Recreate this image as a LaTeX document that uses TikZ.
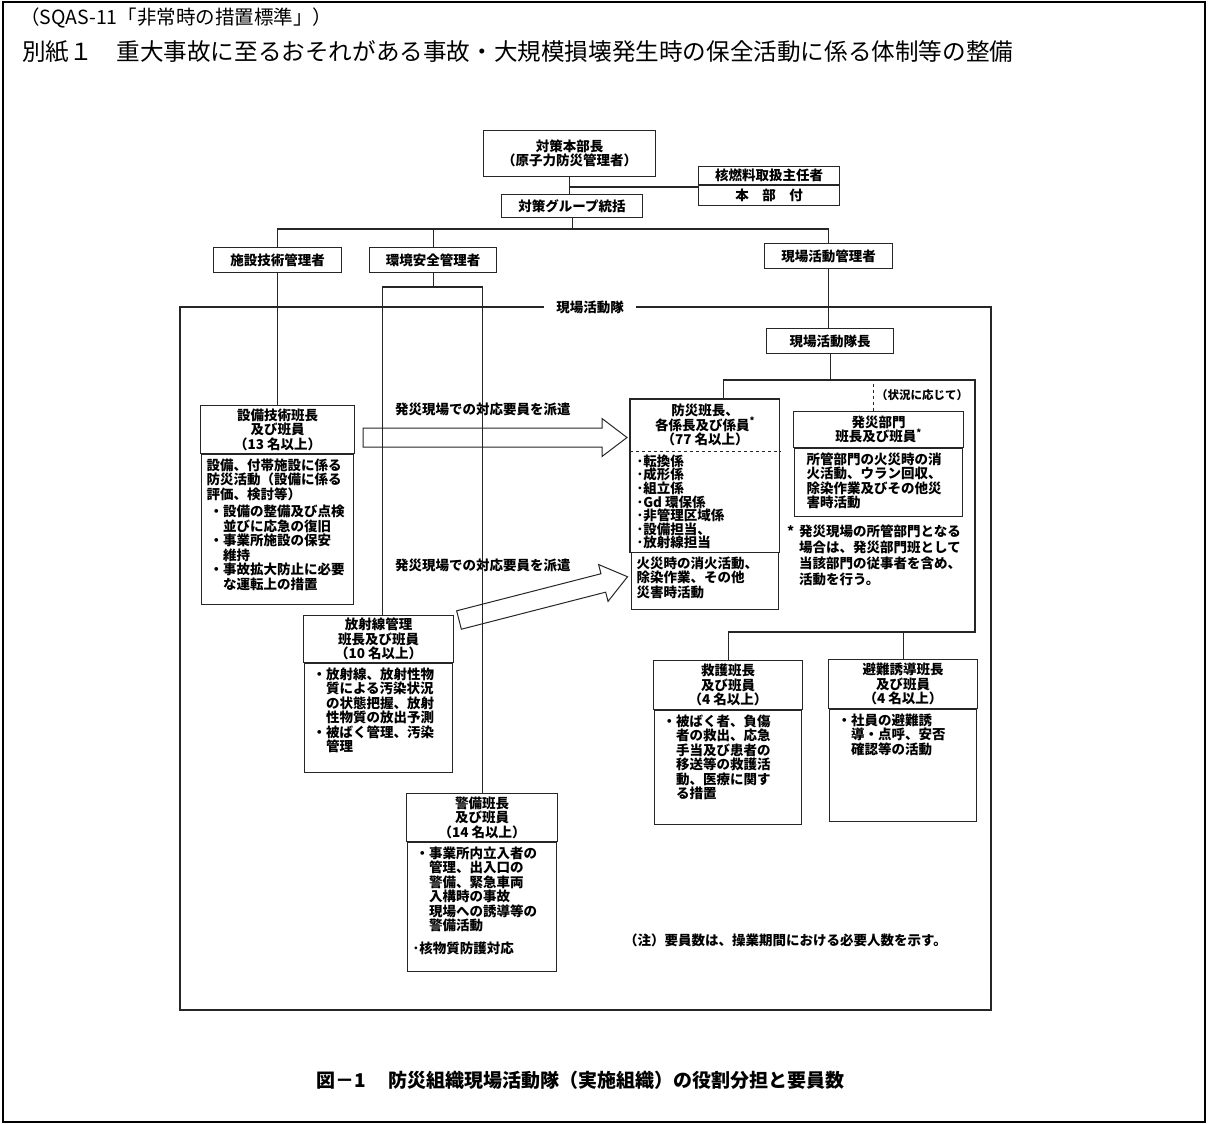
\documentclass[tikz,border=0pt]{standalone}
\usepackage{fontspec}
\setmainfont{Noto Sans CJK JP}
\usepackage{tikz}
\usetikzlibrary{positioning}

\newcommand{\dfont}{\bfseries\fontsize{13.5}{14.5}\selectfont}
\newcommand{\cellbody}[3]{%
  \begin{minipage}[t][\dimexpr#2pt-8pt\relax][t]{\dimexpr#1pt-12pt\relax}%
    \raggedright#3%
  \end{minipage}}
\newcommand{\bul}{\hspace*{3pt}・}
\newcommand{\ind}{\hspace*{3pt}\hspace*{1em}}
\newcommand{\fatarrow}[1]{%
  \draw[conn, line width=1pt] (0,-9.5) -- ({#1-25},-9.5) -- ({#1-25},-19) -- (#1,0)
    -- ({#1-25},19) -- ({#1-25},9.5) -- (0,9.5) -- cycle;}

\tikzset{
  conn/.style={draw=black!85, line width=1.1pt},
  hdrbox/.style={conn, align=center, inner sep=1pt, font=\dfont, anchor=north west},
  bodybox/.style={conn, inner xsep=5pt, inner ysep=4pt, font=\dfont},
  txt/.style={font=\dfont, inner sep=0pt, anchor=west},
}

\begin{document}
\begin{tikzpicture}[x=1pt, y=-1pt]
  \fill[white] (0,0) rectangle (1208,1124);
  \useasboundingbox (0,0) rectangle (1208,1124);
  \draw[black, line width=2pt] (3,2) rectangle (1205,1122);

  \node[txt, font=\fontsize{19.5}{19.5}\selectfont] (ttl1) at (20,18) {（SQAS-11「非常時の措置標準」）};
  \node[txt, font=\fontsize{23.6}{23.6}\selectfont] (ttl2) at (22,52) {別紙１　重大事故に至るおそれがある事故・大規模損壊発生時の保全活動に係る体制等の整備};

  % head office
  \node[hdrbox, minimum width=172, minimum height=46] (chief) at (483,130) {対策本部長\\（原子力防災管理者）};
  \node[hdrbox, minimum width=141, minimum height=18] (fuelH) at (698,166) {核燃料取扱主任者};
  \node[hdrbox, minimum width=141, minimum height=20, below=0pt of fuelH] (fuelB) {本\quad 部\quad 付};
  \node[hdrbox, minimum width=141, minimum height=23] (grp) at (501,194) {対策グループ統括};
  \node[hdrbox, minimum width=128, minimum height=25] (fac) at (213,247) {施設技術管理者};
  \node[hdrbox, minimum width=127, minimum height=25] (env) at (369,247) {環境安全管理者};
  \node[hdrbox, minimum width=128, minimum height=25] (site) at (764,243) {現場活動管理者};

  \coordinate (gbus) at (571,229);
  \coordinate (fj) at (569,187);
  \draw[conn] (chief.south) -- (chief.south |- grp.north);
  \draw[conn] (fj) -- (fj -| fuelB.west);
  \draw[conn] (grp.south) -- (grp.south |- gbus);
  \draw[conn] (fac.north) |- (gbus) -| (site.north);
  \draw[conn] (env.north) -- (env.north |- gbus);

  % field team frame
  \draw[conn] (180,307) rectangle (991,1010);
  \node[txt, anchor=center, fill=white, inner xsep=12pt, inner ysep=2pt] (team) at (590,307) {現場活動隊};
  \node[hdrbox, minimum width=127, minimum height=25] (lead) at (766,328) {現場活動隊長};
  \draw[conn] (site.south) -- (site.south |- lead.north);

  \node[hdrbox, minimum width=154, minimum height=48] (equipH) at (200,405) {設備技術班長\\及び班員\\（13 名以上）};
  \node[bodybox, below=0pt of equipH] (equipB) {\cellbody{154}{150}{設備、付帯施設に係る\\防災活動（設備に係る\\評価、検討等）\\[3pt]\bul 設備の整備及び点検\\\ind 並びに応急の復旧\\\bul 事業所施設の保安\\\ind 維持\\\bul 事故拡大防止に必要\\\ind な運転上の措置}};

  \node[hdrbox, draw=none, minimum width=149, minimum height=51] (dspH) at (630,399) {防災班長、\\各係長及び係員\textsuperscript{*}\\（77 名以上）};
  \node[bodybox, draw=none, inner ysep=3pt, below=0pt of dspH] (dspL) {\cellbody{149}{102}{\fontsize{13.5}{13.6}\selectfont ･転換係\\･成形係\\･組立係\\･Gd 環保係\\･非管理区域係\\･設備担当、\\･放射線担当}};
  \node[bodybox, below=0pt of dspL] (dspA) {\cellbody{149}{57}{火災時の消火活動、\\除染作業、その他\\災害時活動}};
  \draw[conn] (dspH.north west) rectangle (dspL.south east);
  \draw[conn, dashed] (dspH.south west) -- (dspH.south east);

  \node[hdrbox, minimum width=170, minimum height=36] (hsbH) at (793,411) {発災部門\\班長及び班員\textsuperscript{*}};
  \node[bodybox, below=0pt of hsbH] (hsbB) {\cellbody{170}{68}{\leftskip=7pt 所管部門の火災時の消\\火活動、ウラン回収、\\除染作業及びその他災\\害時活動}};
  \node[txt, anchor=north west, align=left, font=\bfseries\fontsize{13.5}{16}\selectfont] (star) at (787,525) {\makebox[12pt][l]{*}発災現場の所管部門となる\\\hspace*{12pt}場合は、発災部門班として\\\hspace*{12pt}当該部門の従事者を含め、\\\hspace*{12pt}活動を行う。};

  \node[hdrbox, minimum width=150, minimum height=47] (radH) at (303,615) {放射線管理\\班長及び班員\\（10 名以上）};
  \node[bodybox, below=0pt of radH] (radB) {\cellbody{150}{109}{\bul 放射線、放射性物\\\ind 質による汚染状況\\\ind の状態把握、放射\\\ind 性物質の放出予測\\\bul 被ばく管理、汚染\\\ind 管理}};

  \node[hdrbox, minimum width=149, minimum height=49] (rescH) at (653,660) {救護班長\\及び班員\\（4 名以上）};
  \node[bodybox, below=0pt of rescH] (rescB) {\cellbody{149}{114}{\bul 被ばく者、負傷\\\ind 者の救出、応急\\\ind 手当及び患者の\\\ind 移送等の救護活\\\ind 動、医療に関す\\\ind る措置}};

  \node[hdrbox, minimum width=149, minimum height=49] (evacH) at (828,659) {避難誘導班長\\及び班員\\（4 名以上）};
  \node[bodybox, below=0pt of evacH] (evacB) {\cellbody{149}{112}{\bul 社員の避難誘\\\ind 導・点呼、安否\\\ind 確認等の活動}};

  \node[hdrbox, minimum width=151, minimum height=48] (guardH) at (406,793) {警備班長\\及び班員\\（14 名以上）};
  \node[bodybox, below=0pt of guardH] (guardB) {\cellbody{151}{129}{\bul 事業所内立入者の\\\ind 管理、出入口の\\\ind 警備、緊急車両\\\ind 入構時の事故\\\ind 現場への誘導等の\\\ind 警備活動\\[8pt]･核物質防護対応}};

  % connectors inside the team
  \coordinate (ej) at (433,287);
  \coordinate (lj) at (829,380);
  \coordinate (rj) at (975,380);
  \coordinate (rb) at (975,632);
  \draw[conn] (fac.south) -- (equipH.north);
  \draw[conn] (env.south) -- (env.south |- ej);
  \draw[conn] ([xshift=4pt]radH.north) |- (ej) -| (guardH.north);
  \draw[conn] (lead.south) -- (lead.south |- lj);
  \draw[conn] ([xshift=18.5pt]dspH.north) |- (rj) -- (rb) -| (rescH.north);
  \draw[conn] (evacH.north) -- (evacH.north |- rb);
  \draw[conn, dashed] ([xshift=-5pt]hsbH.north) -- ([xshift=-5pt]hsbH.north |- rj);
  \node[txt, font=\bfseries\fontsize{11.5}{12}\selectfont] (cond) at (876,395) {（状況に応じて）};

  % dispatch arrows
  \begin{scope}[shift={(363,437.5)}]
    \fatarrow{264}
  \end{scope}
  \begin{scope}[shift={(459,620)}, rotate=14.4]
    \fatarrow{174}
  \end{scope}
  \node[txt] (send1) at (395,409) {発災現場での対応要員を派遣};
  \node[txt] (send2) at (395,565) {発災現場での対応要員を派遣};

  \node[txt] (note) at (624,940) {（注）要員数は、操業期間における必要人数を示す。};
  \node[txt, font=\bfseries\fontsize{19}{19}\selectfont] (cap) at (316,1080) {図－1\hspace{1.2em}防災組織現場活動隊（実施組織）の役割分担と要員数};
\end{tikzpicture}
\end{document}
